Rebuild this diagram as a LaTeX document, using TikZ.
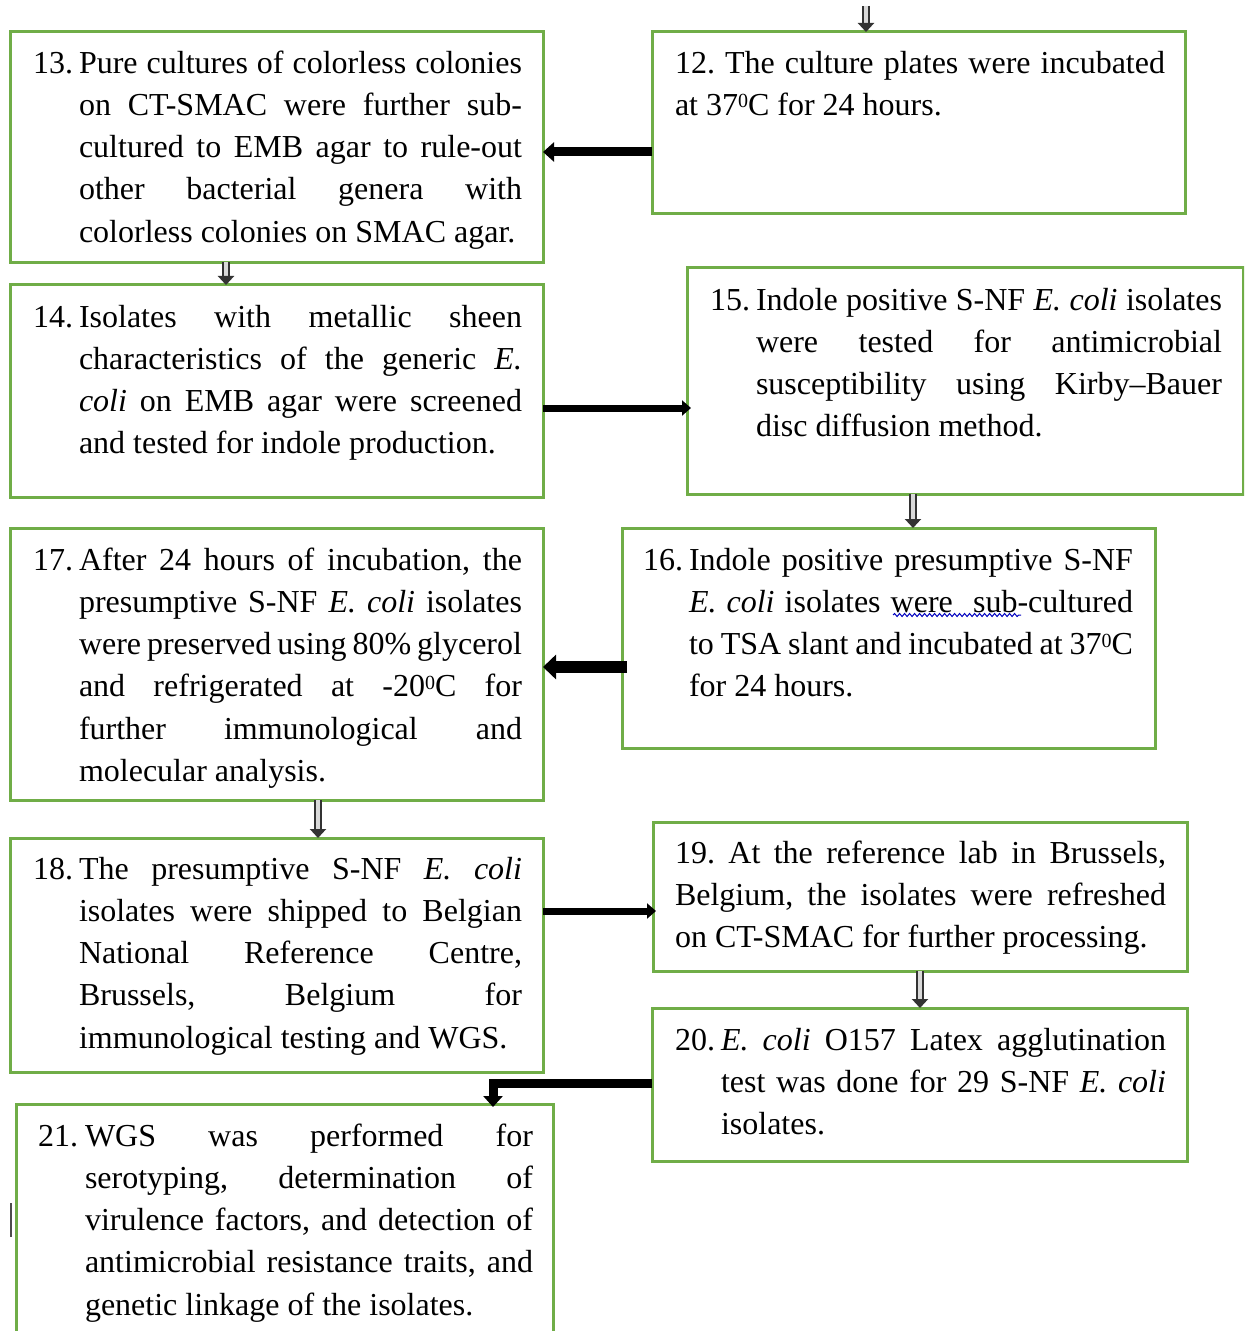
\documentclass[tikz,border=0pt]{standalone}
\usepackage{fontspec}
\setmainfont{Liberation Serif}
\usetikzlibrary{arrows.meta,calc,decorations.pathmorphing}
\definecolor{boxgreen}{RGB}{112,173,71}
\newcommand\txtsetup{\fontsize{32bp}{42.25bp}\selectfont\frenchspacing\tolerance=9999\emergencystretch=20bp\relax}
\newcommand\degz{\raisebox{0.24em}{\fontsize{20bp}{20bp}\selectfont 0}}
\tikzset{
  box/.style={draw=boxgreen, line width=3bp, rectangle, inner sep=0pt, outer sep=0pt, anchor=north west},
  txt/.style={inner sep=0pt, outer sep=0pt, anchor=north west, align=justify, font=\txtsetup},
  num/.style={inner sep=0pt, outer sep=0pt, anchor=north west, font=\txtsetup},
  heavy/.style={draw=black, line width=9bp, line join=miter, -{Triangle[length=11bp,width=19bp]}},
  heavier/.style={draw=black, line width=12bp, -{Triangle[length=13bp,width=24bp]}},
  medium/.style={draw=black, line width=7bp, -{Triangle[length=9bp,width=15bp]}},
  dbl/.style={draw=black!80, line width=2.2bp, double=black!15, double distance=3.5bp, -{Triangle[length=9bp,width=16bp]}},
  spellwave/.style={draw=blue!75!black, line width=1bp, decorate, decoration={snake, amplitude=1.5bp, segment length=5bp}}
}
\begin{document}
\begin{tikzpicture}[x=1bp,y=-1bp]
\useasboundingbox (0,0) rectangle (1244,1331);
\clip (0,0) rectangle (1244,1331);
\fill[white] (0,0) rectangle (1244,1331);

% boxes
\node[box, minimum width=533bp, minimum height=181bp] (b12) at (652,32) {};
\node[box, minimum width=533bp, minimum height=230bp] (b13) at (10,32) {};
\node[box, minimum width=533bp, minimum height=212bp] (b14) at (10,285) {};
\node[box, minimum width=556bp, minimum height=226bp] (b15) at (687,268) {};
\node[box, minimum width=533bp, minimum height=220bp] (b16) at (622,528) {};
\node[box, minimum width=533bp, minimum height=272bp] (b17) at (10,528) {};
\node[box, minimum width=533bp, minimum height=234bp] (b18) at (10,838) {};
\node[box, minimum width=534bp, minimum height=149bp] (b19) at (653,822) {};
\node[box, minimum width=535bp, minimum height=153bp] (b20) at (652,1008) {};
\node[box, minimum width=537bp, minimum height=240bp] (b21) at (16,1104) {};

% numbers
\node[num] (n13) at (33,43.6) {\strut 13.};
\node[num] (n14) at (33,297.6) {\strut 14.};
\node[num] (n15) at (710,280.6) {\strut 15.};
\node[num] (n16) at (643,540.6) {\strut 16.};
\node[num] (n17) at (33,540.6) {\strut 17.};
\node[num] (n18) at (33,849.6) {\strut 18.};
\node[num] (n20) at (675,1020.6) {\strut 20.};
\node[num] (n21) at (38,1116.6) {\strut 21.};

% texts
\node[txt, text width=490bp] (t12) at (675,43.6) {\strut 12. The culture plates were incubated\linebreak at 37\degz C for 24 hours.};
\node[txt, text width=443bp] (t13) at (79,43.6) {\strut Pure cultures of colorless colonies\linebreak on CT-SMAC were further sub-\linebreak cultured to EMB agar to rule-out\linebreak other bacterial genera with\linebreak colorless colonies on SMAC agar.};
\node[txt, text width=443bp] (t14) at (79,297.6) {\strut Isolates with metallic sheen\linebreak characteristics of the generic \textit{E.}\linebreak \textit{coli} on EMB agar were screened\linebreak and tested for indole production.};
\node[txt, text width=466bp] (t15) at (756,280.6) {\strut Indole positive S-NF \textit{E. coli} isolates\linebreak were tested for antimicrobial\linebreak susceptibility using Kirby–Bauer\linebreak disc diffusion method.};
\node[txt, text width=444bp] (t16) at (689,540.6) {\strut Indole positive presumptive S-NF\linebreak \textit{E. coli} isolates were\ \ sub-cultured\linebreak to TSA slant and incubated at 37\degz C\linebreak for 24 hours.};
\node[txt, text width=443bp] (t17) at (79,540.6) {\strut After 24 hours of incubation, the\linebreak presumptive S-NF \textit{E. coli} isolates\linebreak were preserved using 80\% glycerol\linebreak and refrigerated at -20\degz C for\linebreak further immunological and\linebreak molecular analysis.};
\node[txt, text width=443bp] (t18) at (79,849.6) {\strut The presumptive S-NF \textit{E. coli}\linebreak isolates were shipped to Belgian\linebreak National Reference Centre,\linebreak Brussels, Belgium for\linebreak immunological testing and WGS.};
\node[txt, text width=491bp] (t19) at (675,833.6) {\strut 19. At the reference lab in Brussels,\linebreak Belgium, the isolates were refreshed\linebreak on CT-SMAC for further processing.};
\node[txt, text width=445bp] (t20) at (721,1020.6) {\strut\textit{E. coli} O157 Latex agglutination\linebreak test was done for 29 S-NF \textit{E. coli}\linebreak isolates.};
\node[txt, text width=448bp] (t21) at (85,1116.6) {\strut WGS was performed for\linebreak serotyping, determination of\linebreak virulence factors, and detection of\linebreak antimicrobial resistance traits, and\linebreak genetic linkage of the isolates.};

% spell-check underline
\draw[spellwave] (893,615) -- (1021,615);

% connectors
\coordinate (topstart) at (866,6);
\draw[dbl] (topstart) -- (topstart |- b12.north);
\draw[heavy] (b12.west |- 0,152) -- (b13.east |- 0,152);
\draw[dbl] (226,0 |- b13.south) -- (226,0 |- b14.north);
\draw[medium] (b14.east |- 0,408) -- ([xshift=4bp]b15.west |- 0,408);
\draw[dbl] (913,0 |- b15.south) -- (913,0 |- b16.north);
\draw[heavier] ([xshift=5bp]b16.west |- 0,667) -- (b17.east |- 0,667);
\draw[dbl] (318,0 |- b17.south) -- (318,0 |- b18.north);
\draw[medium] (b18.east |- 0,911) -- ([xshift=3bp]b19.west |- 0,911);
\draw[dbl] (920,0 |- b19.south) -- (920,0 |- b20.north);
\draw[heavy] (b20.west |- 0,1083) -| ([yshift=-3bp]493,0 |- b21.north);

% stray mark
\draw[draw=black!70, line width=2bp] (11,1203) -- (11,1237);
\end{tikzpicture}
\end{document}
